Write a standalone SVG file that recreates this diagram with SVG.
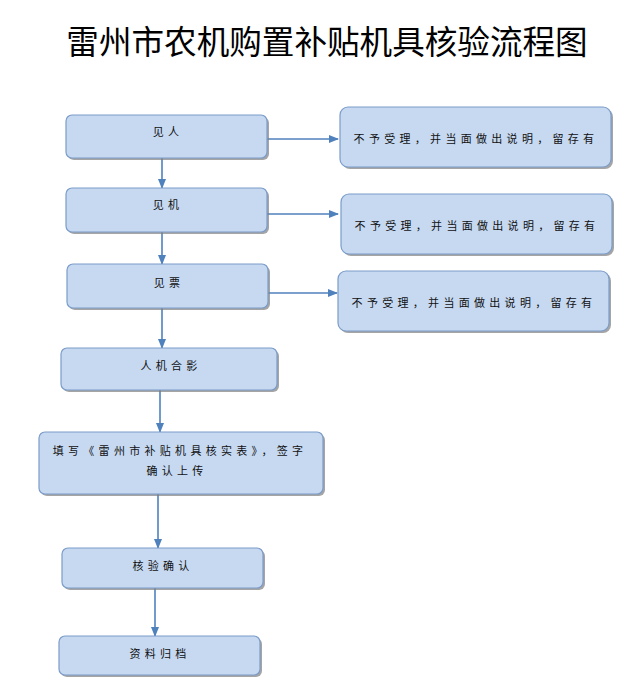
<svg xmlns="http://www.w3.org/2000/svg" width="643" height="694" viewBox="0 0 643 694">
<style>
.box{fill:#c6d9f1;stroke:#7b9cc9;stroke-width:1.2}
.sh{fill:#7f7f7f;opacity:0.7}
.t{font-family:"Noto Sans CJK SC","Liberation Sans",sans-serif;font-size:11px;fill:#111;text-anchor:middle;letter-spacing:4.3px}
.title{font-family:"Noto Sans CJK SC","Liberation Sans",sans-serif;font-size:32.6px;fill:#000;text-anchor:middle}
.c{stroke:#4f81bd;stroke-width:1.6;fill:none;marker-end:url(#ah)}
</style>
<defs>
<marker id="ah" markerWidth="10" markerHeight="8" refX="9" refY="4" orient="auto" markerUnits="userSpaceOnUse">
<path d="M0,0 L10,4 L0,8 Z" fill="#4f81bd"/>
</marker>
</defs>
<rect width="643" height="694" fill="#fff"/>
<text class="title" x="327" y="54">雷州市农机购置补贴机具核验流程图</text>
<g id="connectors">
<path class="c" d="M267,139 H338"/>
<path class="c" d="M267,214 H338"/>
<path class="c" d="M268,293 H337"/>
<path class="c" d="M162,158 V188"/>
<path class="c" d="M162,232 V264"/>
<path class="c" d="M162,308 V348"/>
<path class="c" d="M160,390 V432"/>
<path class="c" d="M158,494 V548"/>
<path class="c" d="M155,588 V636"/>
</g>
<g id="n1"><rect class="sh" x="68" y="117" width="201" height="43" rx="6"/><rect class="box" x="66" y="115" width="201" height="43" rx="6"/><text class="t" x="168" y="136">见人</text></g>
<g id="n2"><rect class="sh" x="68" y="190" width="201" height="44" rx="6"/><rect class="box" x="66" y="188" width="201" height="44" rx="6"/><text class="t" x="168" y="209">见机</text></g>
<g id="n3"><rect class="sh" x="69" y="266" width="201" height="44" rx="6"/><rect class="box" x="67" y="264" width="201" height="44" rx="6"/><text class="t" x="169" y="287">见票</text></g>
<g id="n4"><rect class="sh" x="63" y="350" width="216" height="42" rx="6"/><rect class="box" x="61" y="348" width="216" height="42" rx="6"/><text class="t" x="171" y="370">人机合影</text></g>
<g id="n5"><rect class="sh" x="41" y="434" width="284" height="62" rx="6"/><rect class="box" x="39" y="432" width="284" height="62" rx="6"/><text class="t" x="180" y="455">填写《雷州市补贴机具核实表》，签字</text><text class="t" x="177" y="475">确认上传</text></g>
<g id="n6"><rect class="sh" x="64" y="550" width="201" height="40" rx="6"/><rect class="box" x="62" y="548" width="201" height="40" rx="6"/><text class="t" x="163" y="570">核验确认</text></g>
<g id="n7"><rect class="sh" x="61" y="638" width="201" height="39" rx="6"/><rect class="box" x="59" y="636" width="201" height="39" rx="6"/><text class="t" x="160" y="658">资料归档</text></g>
<g id="r1"><rect class="sh" x="342" y="109" width="271" height="60" rx="8"/><rect class="box" x="340" y="107" width="271" height="60" rx="8"/><text class="t" x="476" y="143">不予受理，并当面做出说明，留存有</text></g>
<g id="r2"><rect class="sh" x="343" y="196" width="271" height="60" rx="8"/><rect class="box" x="341" y="194" width="271" height="60" rx="8"/><text class="t" x="477" y="230">不予受理，并当面做出说明，留存有</text></g>
<g id="r3"><rect class="sh" x="340" y="273" width="271" height="60" rx="8"/><rect class="box" x="338" y="271" width="271" height="60" rx="8"/><text class="t" x="474" y="307">不予受理，并当面做出说明，留存有</text></g>
</svg>
